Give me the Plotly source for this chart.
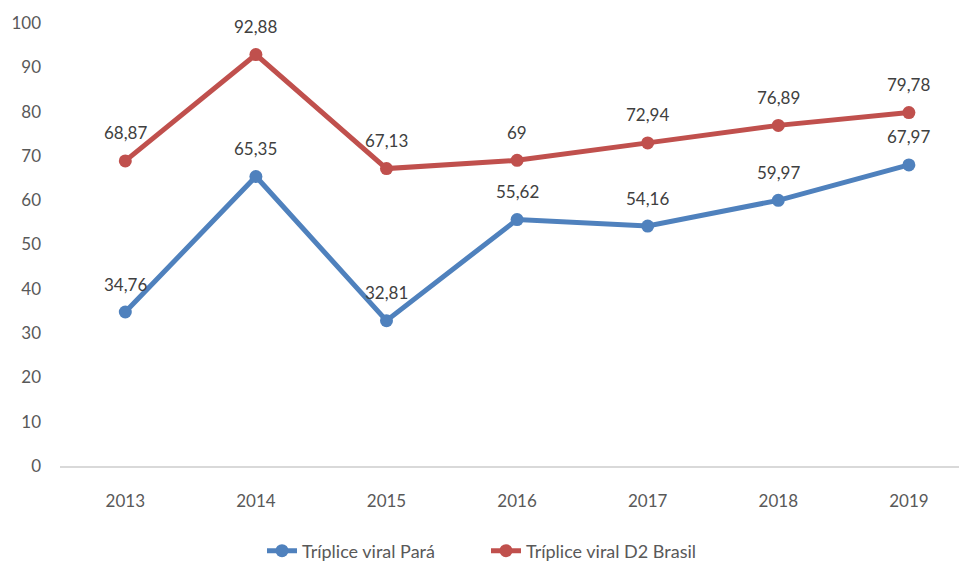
import plotly.graph_objects as go

years = ["2013", "2014", "2015", "2016", "2017", "2018", "2019"]
para = [34.76, 65.35, 32.81, 55.62, 54.16, 59.97, 67.97]
brasil = [68.87, 92.88, 67.13, 69, 72.94, 76.89, 79.78]
para_labels = ["34,76", "65,35", "32,81", "55,62", "54,16", "59,97", "67,97"]
brasil_labels = ["68,87", "92,88", "67,13", "69", "72,94", "76,89", "79,78"]
y_ticks = [0, 10, 20, 30, 40, 50, 60, 70, 80, 90, 100]

BLUE = "#4F81BD"
RED = "#C0504D"
TXT = "#595959"
FONT = "Lato"

fig = go.Figure()
fig.add_trace(go.Scatter(x=years, y=para, mode="lines+markers", name="Tríplice viral Pará",
                         line=dict(color=BLUE, width=5), marker=dict(size=13, color=BLUE)))
fig.add_trace(go.Scatter(x=years, y=brasil, mode="lines+markers", name="Tríplice viral D2 Brasil",
                         line=dict(color=RED, width=5), marker=dict(size=13, color=RED)))

for ys, labs in [(para, para_labels), (brasil, brasil_labels)]:
    for i, (y, t) in enumerate(zip(ys, labs)):
        fig.add_annotation(x=i, y=y, xref="x", yref="y", text=t, showarrow=False, yshift=28,
                           font=dict(family=FONT, size=17, color="#404040"))

# page body has an 8px margin; figure is sized to fill the remaining window
fig.update_layout(
    width=959, height=556,
    margin=dict(l=52, r=0, t=15, b=98),
    paper_bgcolor="white", plot_bgcolor="white",
    font=dict(family=FONT, size=17, color=TXT),
    showlegend=True,
    legend=dict(orientation="h", xref="container", yref="container", x=254 / 959, xanchor="left",
                y=13 / 556, yanchor="middle", font=dict(family=FONT, size=18, color=TXT),
                entrywidth=179, entrywidthmode="pixels"),
    xaxis=dict(type="category", range=[-0.5, 6.445], showgrid=False, showline=True,
               linecolor="#D9D9D9", linewidth=2, ticks="", ticklabelstandoff=19,
               tickfont=dict(family=FONT, size=17, color=TXT), zeroline=False),
    yaxis=dict(range=[0, 100], tickvals=y_ticks, showgrid=False, showline=False, zeroline=False,
               ticks="", ticklabelstandoff=18, tickfont=dict(family=FONT, size=17, color=TXT)),
)

fig.write_html("out.html")
